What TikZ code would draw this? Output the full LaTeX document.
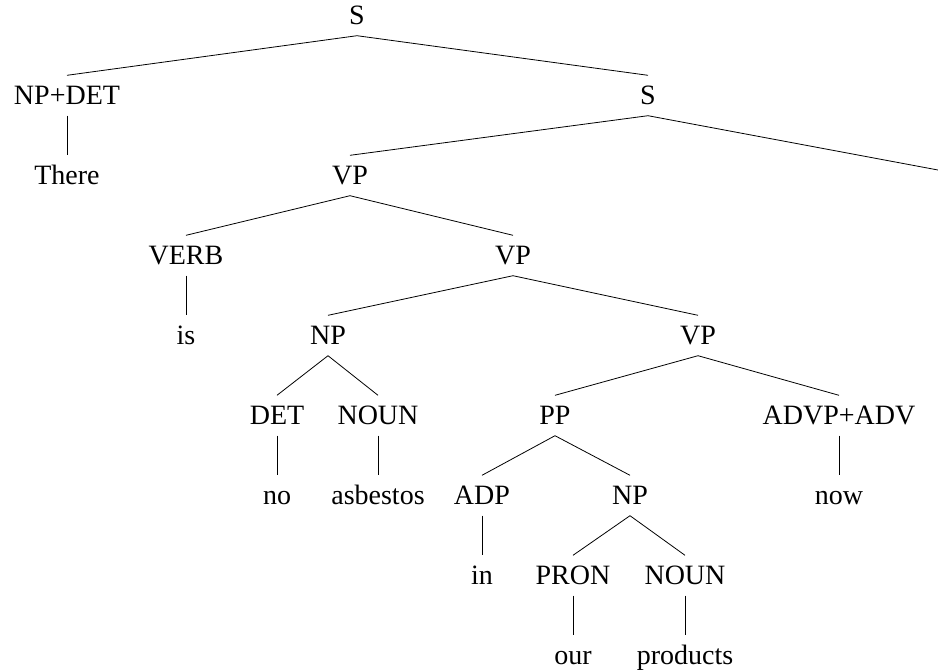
\documentclass[tikz,border=0pt]{standalone}
\usepackage{fontspec}
\setmainfont{Liberation Serif}

\tikzset{
  lab/.style={inner sep=0pt, text height=18.5pt, text depth=0pt,
    minimum height=40pt, font=\fontsize{28}{34}\selectfont},
  edge/.style={line width=.8pt},
}

\begin{document}
\begin{tikzpicture}[x=1pt,y=-1pt]
  \useasboundingbox (0,0) rectangle (938,670);

      % top
      \node[lab] (s) at (357,15.5) {S};
      \node[lab] (npdet) at (67,95.5) {NP+DET};
      \node[lab] (s2) at (648,95.5) {S};
      \node[lab] (there) at (67,175.5) {There};
      \node[lab] (vp) at (350,175.5) {VP};
      \coordinate (cut) at (938,170);

      % verb phrase
      \node[lab] (verb) at (186,255.5) {VERB};
      \node[lab] (vp2) at (513,255.5) {VP};
      \node[lab] (is) at (186,335.5) {is};
      \node[lab] (np) at (328,335.5) {NP};
      \node[lab] (vp3) at (698,335.5) {VP};

      % lower levels
      \node[lab] (det) at (277,415.5) {DET};
      \node[lab] (noun) at (378,415.5) {NOUN};
      \node[lab] (pp) at (555,415.5) {PP};
      \node[lab] (advp) at (839,415.5) {ADVP+ADV};
      \node[lab] (no) at (277,495.5) {no};
      \node[lab] (asbestos) at (378,495.5) {asbestos};
      \node[lab] (adp) at (482,495.5) {ADP};
      \node[lab] (np2) at (630,495.5) {NP};
      \node[lab] (now) at (839,495.5) {now};
      \node[lab] (inw) at (482,575.5) {in};
      \node[lab] (pron) at (573,575.5) {PRON};
      \node[lab] (noun2) at (685,575.5) {NOUN};
      \node[lab] (our) at (573,655.5) {our};
      \node[lab] (products) at (685,655.5) {products};

      % branches
      \foreach \p/\c in {s/npdet, s/s2, npdet/there, s2/vp, vp/verb, vp/vp2,
        verb/is, vp2/np, vp2/vp3, np/det, np/noun, vp3/pp, vp3/advp,
        det/no, noun/asbestos, pp/adp, pp/np2, advp/now, adp/inw,
        np2/pron, np2/noun2, pron/our, noun2/products} {
        \draw[edge] (\p.south) -- (\c.north);
      }
      \draw[edge] (s2.south) -- (cut);

\end{tikzpicture}
\end{document}
